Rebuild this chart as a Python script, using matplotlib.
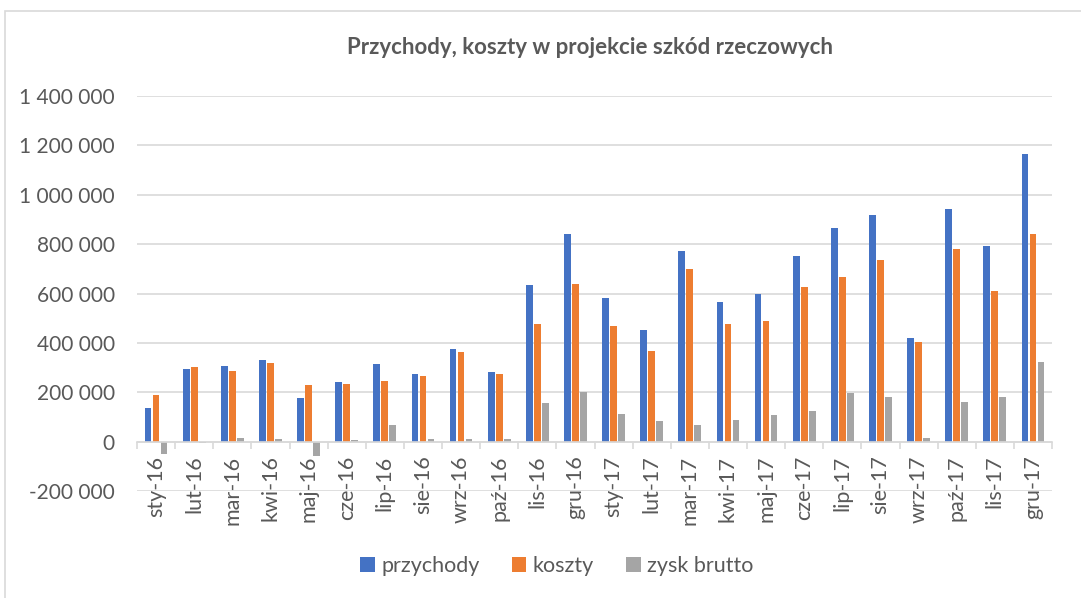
import matplotlib
matplotlib.use("Agg")
import matplotlib.pyplot as plt
import numpy as np
from matplotlib.patches import Rectangle
from matplotlib.ticker import FuncFormatter, MultipleLocator

categories = ["sty-16", "lut-16", "mar-16", "kwi-16", "maj-16", "cze-16", "lip-16", "sie-16",
              "wrz-16", "paź-16", "lis-16", "gru-16", "sty-17", "lut-17", "mar-17", "kwi-17",
              "maj-17", "cze-17", "lip-17", "sie-17", "wrz-17", "paź-17", "lis-17", "gru-17"]
przychody = [138000, 294000, 305000, 329000, 175000, 240000, 313000, 274000,
             375000, 283000, 634000, 842000, 582000, 452000, 771000, 566000,
             598000, 752000, 865000, 918000, 420000, 942000, 792000, 1166000]
koszty = [189000, 301000, 288000, 319000, 229000, 234000, 246000, 265000,
          363000, 273000, 475000, 640000, 470000, 366000, 699000, 477000,
          487000, 625000, 667000, 736000, 404000, 780000, 610000, 842000]
zysk_brutto = [-51000, -4000, 15000, 9000, -57000, 7000, 66000, 11000,
               11000, 11000, 157000, 201000, 112000, 85000, 69000, 88000,
               109000, 124000, 198000, 181000, 15000, 161000, 180000, 323000]
series_names = ["przychody", "koszty", "zysk brutto"]
colors = ["#4472C4", "#ED7D31", "#A5A5A5"]
title = "Przychody, koszty w projekcie szkód rzeczowych"

TEXT = "#595959"
GRID = "#D9D9D9"
FONT = "Lato"

W, H = 1081, 598
fig = plt.figure(figsize=(W / 100, H / 100), dpi=100)
ax = fig.add_axes([137 / W, 1 - 491 / H, (1052 - 137) / W, (491 - 96) / H])

x = np.arange(len(categories))
bw = 0.175
step = 0.21
for i, (vals, name, c) in enumerate(zip([przychody, koszty, zysk_brutto], series_names, colors)):
    ax.bar(x + (i - 1) * step, vals, width=bw, color=c, label=name, zorder=3)

ax.set_xlim(-0.5, len(categories) - 0.5)
ax.set_ylim(-200000, 1400000)
ax.yaxis.set_major_locator(MultipleLocator(200000))
ax.yaxis.set_major_formatter(FuncFormatter(lambda v, p: f"{int(v):,}".replace(",", " ")))
ax.grid(axis="y", color=GRID, linewidth=1.2, zorder=0)
ax.set_axisbelow(True)

for s in ["top", "right", "left"]:
    ax.spines[s].set_visible(False)
ax.spines["bottom"].set_position(("data", 0))
ax.spines["bottom"].set_color(GRID)
ax.spines["bottom"].set_linewidth(1.2)
ax.spines["bottom"].set_zorder(4)

ax.set_xticks(x)
ax.set_xticklabels(categories, rotation=90, fontsize=15.5, color=TEXT, family=FONT)
ax.set_xticks(np.arange(-0.5, len(categories), 1.0), minor=True)
ax.tick_params(axis="x", which="major", length=0, pad=10)
ax.tick_params(axis="x", which="minor", length=5, width=1.2, color=GRID)
ax.tick_params(axis="y", length=0, pad=16, labelsize=15, labelcolor=TEXT)
for lbl in ax.get_yticklabels():
    lbl.set_family(FONT)

fig.text(590 / W, 1 - 48 / H, title, ha="center", va="center", fontsize=16,
         fontweight="bold", color=TEXT, family=FONT)

leg = fig.legend(loc="center", bbox_to_anchor=(557 / W, 1 - 566 / H), ncol=3, frameon=False,
                 prop={"family": FONT, "size": 15.5}, labelcolor=TEXT,
                 handlelength=0.67, handleheight=0.67, handletextpad=0.3, columnspacing=1.5)

fig.patches.append(Rectangle((5 / W, -0.1), 1.2, 1 - 11 / H + 0.1, transform=fig.transFigure,
                             fill=False, edgecolor=GRID, linewidth=1.2))

fig.savefig("out.png", dpi=100)
